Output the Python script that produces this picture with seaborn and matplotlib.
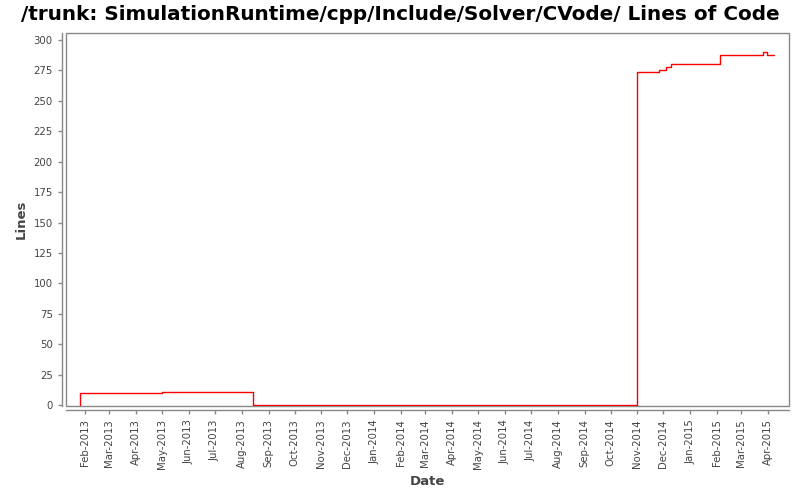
import matplotlib
matplotlib.use("Agg")
import matplotlib.pyplot as plt
import matplotlib.dates as mdates
from matplotlib.patches import Rectangle
import seaborn as sns
import pandas as pd

# step data
dates = ["2013-01-26", "2013-01-26", "2013-05-01", "2013-08-14", "2014-11-01",
         "2014-11-26", "2014-12-04", "2014-12-10", "2015-02-04", "2015-03-26",
         "2015-03-31", "2015-04-08"]
lines = [0, 10, 11, 0, 274, 275, 278, 280, 288, 290, 288, 288]
yticks = [0, 25, 50, 75, 100, 125, 150, 175, 200, 225, 250, 275, 300]

df = pd.DataFrame({"Date": pd.to_datetime(dates), "Lines": lines})

sns.set_style("white")
plt.rcParams['font.family'] = ['DejaVu Sans']

fig = plt.figure(figsize=(8, 5), dpi=100)
ax = fig.add_axes([0.0825, 0.188, 0.90375, 0.746])

sns.lineplot(data=df, x="Date", y="Lines", estimator=None, sort=False,
             drawstyle="steps-post", color="#ff0000", linewidth=1.0, ax=ax)

ax.set_xlim(pd.Timestamp("2013-01-10"), pd.Timestamp("2015-04-25"))
ax.set_ylim(-0.8, 305.8)
ax.set_yticks(yticks)
ax.xaxis.set_major_locator(mdates.MonthLocator())
ax.xaxis.set_major_formatter(mdates.DateFormatter("%b-%Y"))

gray = "#888888"
for s in ["top", "right"]:
    ax.spines[s].set_visible(False)
for s in ["left", "bottom"]:
    ax.spines[s].set_position(("outward", 3))
    ax.spines[s].set_color(gray)
    ax.spines[s].set_linewidth(1.0)
ax.add_patch(Rectangle((0, 0), 1, 1, transform=ax.transAxes, fill=False,
                       edgecolor=gray, linewidth=1.0, clip_on=False))

ax.tick_params(axis="both", colors=gray, length=3, width=1, labelsize=7.3,
               labelcolor="#444444", direction="out", bottom=True, left=True)
ax.tick_params(axis="x", labelrotation=90)

ax.set_xlabel("Date", fontsize=9.5, color="#444444", fontweight="bold", labelpad=4)
ax.set_ylabel("Lines", fontsize=9.5, color="#444444", fontweight="bold", labelpad=4)
fig.suptitle("/trunk: SimulationRuntime/cpp/Include/Solver/CVode/ Lines of Code",
             fontsize=14.4, fontweight="bold", color="black", y=0.99, x=0.5)

fig.savefig("out.png", dpi=100)
